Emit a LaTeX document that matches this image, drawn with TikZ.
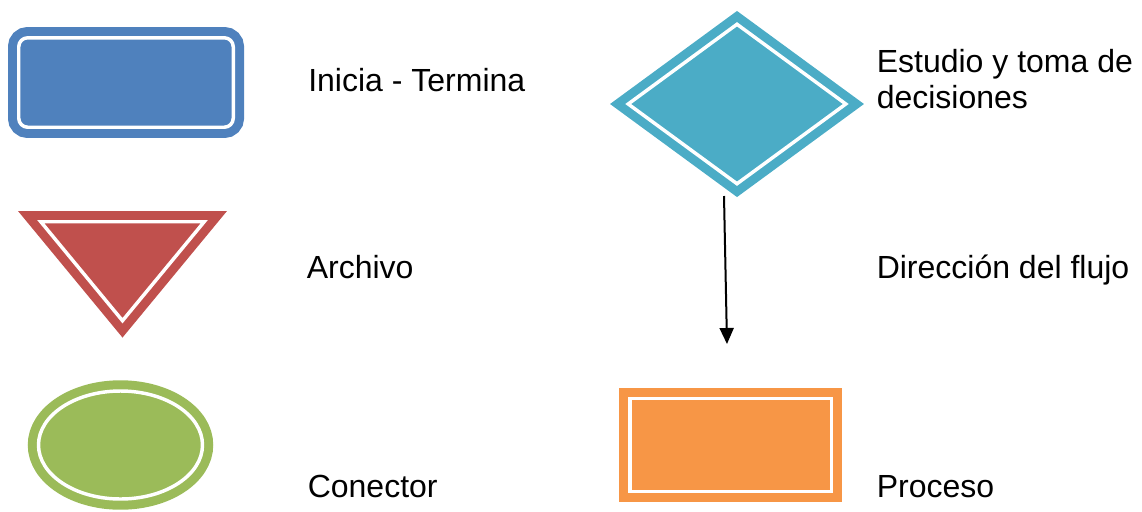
\documentclass[tikz,border=0pt]{standalone}
\usepackage{fontspec}
\setmainfont{Liberation Sans}
\usetikzlibrary{shapes.geometric,arrows.meta}
\definecolor{azulini}{HTML}{4F81BD}
\definecolor{rojoarch}{HTML}{C0504D}
\definecolor{verdecon}{HTML}{9BBB59}
\definecolor{celestedec}{HTML}{4BACC6}
\definecolor{naranjapro}{HTML}{F79646}
\begin{document}
\begin{tikzpicture}
[x=0.75pt,y=-0.75pt,
figura/.style={inner sep=0pt,outer sep=0pt,line width=6.75pt,double=white,double distance=2.6pt},
iniciobox/.style={figura,rectangle,rounded corners=6.75pt,draw=azulini,fill=azulini,minimum width=160.9pt,minimum height=67.1pt},
archivotri/.style={figura,draw=rojoarch,fill=rojoarch,line join=miter},
conectornode/.style={figura,ellipse,draw=verdecon,fill=verdecon,minimum width=123pt,minimum height=81pt},
decisionnode/.style={figura,diamond,draw=celestedec,fill=celestedec,minimum width=163.2pt,minimum height=119.6pt},
procesobox/.style={figura,rectangle,draw=naranjapro,fill=naranjapro,minimum width=151.1pt,minimum height=69.4pt},
rotulo/.style={anchor=base west,inner sep=0pt,font=\fontsize{24}{27}\selectfont,align=left},
flecha/.style={line width=1.5pt,-{Triangle[width=10.5pt,length=12pt]}}]
\useasboundingbox (0,0) rectangle (1142,511);
% figuras
\node[iniciobox] (inicio) at (126,82.5) {};
\coordinate (archA) at (40.8,221.75);
\coordinate (archB) at (204.2,221.75);
\coordinate (archC) at (122.5,320.7);
\draw[archivotri] (archA) -- (archB) -- (archC) -- cycle;
\node[conectornode] (conector) at (120.5,445) {};
\node[decisionnode] (decision) at (737,104) {};
\node[procesobox] (proceso) at (730.5,445) {};
% direccion del flujo
\coordinate (flujoA) at (724,196);
\coordinate (flujoB) at (727,344);
\draw[flecha] (flujoA) -- (flujoB);
% textos
\node[rotulo] (tinicio) at (308,91.5) {Inicia - Termina};
\node[rotulo] (tarchivo) at (306.5,278.5) {Archivo};
\node[rotulo] (tconector) at (307.5,497.5) {Conector};
\node[rotulo] (tdecision) at (876.5,108.5) {Estudio y toma de\\decisiones};
\node[rotulo] (tflujo) at (876.5,278.5) {Dirección del flujo};
\node[rotulo] (tproceso) at (876.5,497.5) {Proceso};
\end{tikzpicture}
\end{document}
